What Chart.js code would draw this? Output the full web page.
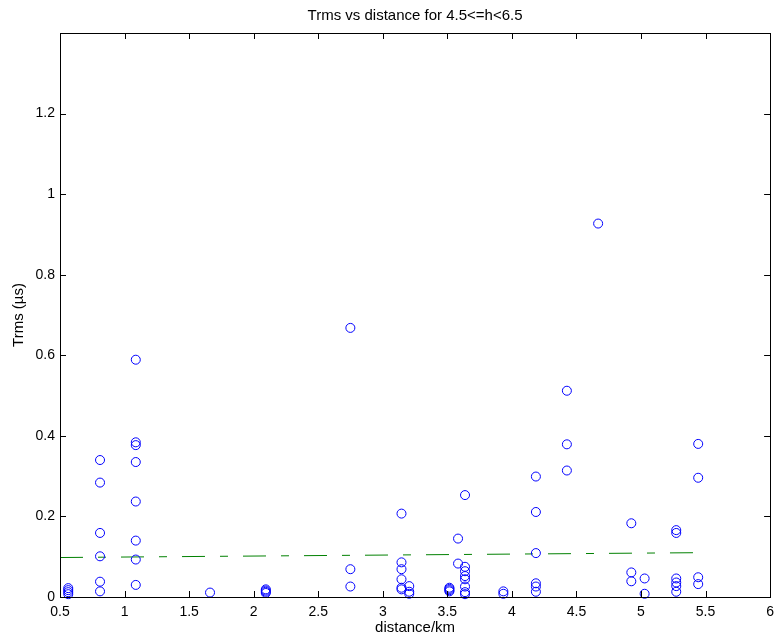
<!DOCTYPE html>
<html>
<head>
<meta charset="utf-8">
<script src="https://cdn.jsdelivr.net/npm/chart.js@4/dist/chart.umd.min.js"></script>
<style>
html,body{margin:0;padding:0;background:#fff;}
#wrap{width:781px;height:642px;}
</style>
</head>
<body>
<div id="wrap"><canvas id="c" width="781" height="642"></canvas></div>
<script>
// ---- data ----
const distanceKm = [
  0.564,0.564,0.564,0.564,
  0.81,0.81,0.81,0.81,0.81,0.81,
  1.087,1.087,1.087,1.087,1.087,1.087,1.087,1.087,
  1.662,
  2.094,2.094,2.094,2.094,
  2.749,2.749,2.749,
  3.145,3.145,3.145,3.145,3.145,3.145,
  3.205,3.205,3.205,
  3.516,3.516,3.516,3.516,
  3.583,3.583,
  3.637,3.637,3.637,3.637,3.637,3.637,3.637,3.637,
  3.934,3.934,
  4.186,4.186,4.186,4.186,4.186,4.186,
  4.426,4.426,4.426,
  4.668,
  4.925,4.925,4.925,
  5.028,5.028,
  5.273,5.273,5.273,5.273,5.273,5.273,
  5.443,5.443,5.443,5.443
];
const trmsUs = [
  0.022,0.017,0.012,0.007,
  0.340,0.284,0.159,0.101,0.038,0.014,
  0.589,0.384,0.377,0.335,0.237,0.140,0.093,0.030,
  0.011,
  0.019,0.016,0.013,0.010,
  0.668,0.069,0.026,
  0.207,0.086,0.069,0.044,0.023,0.019,
  0.027,0.013,0.008,
  0.023,0.020,0.017,0.014,
  0.145,0.083,
  0.253,0.075,0.064,0.052,0.044,0.026,0.012,0.007,
  0.014,0.008,
  0.299,0.211,0.109,0.034,0.026,0.013,
  0.512,0.379,0.314,
  0.927,
  0.183,0.061,0.039,
  0.046,0.008,
  0.166,0.159,0.046,0.036,0.027,0.013,
  0.380,0.296,0.049,0.032
];
const fitDistance = [0.5, 5.44];
const fitTrms = [0.098, 0.110];
const xTicks = [0.5,1,1.5,2,2.5,3,3.5,4,4.5,5,5.5,6];
const yTicks = [0,0.2,0.4,0.6,0.8,1,1.2];
const titleText = 'Trms vs distance for 4.5<=h<6.5';
const xTitle = 'distance/km';
const yTitle = 'Trms (\u00b5s)';

// ---- chart ----
Chart.defaults.font.family = "'Liberation Sans', Arial, sans-serif";
Chart.defaults.color = '#000';

const boxTicks = {
  id: 'boxTicks',
  afterDraw(chart) {
    const {ctx, chartArea: a, scales} = chart;
    const L = 6;
    ctx.save();
    ctx.strokeStyle = '#000';
    ctx.lineWidth = 1;
    ctx.beginPath();
    xTicks.forEach(v => {
      const px = Math.round(scales.x.getPixelForValue(v)) + 0.5;
      ctx.moveTo(px, a.bottom); ctx.lineTo(px, a.bottom - L);
      ctx.moveTo(px, a.top); ctx.lineTo(px, a.top + L);
    });
    yTicks.forEach(v => {
      const py = Math.round(scales.y.getPixelForValue(v)) + 0.5;
      ctx.moveTo(a.left, py); ctx.lineTo(a.left + L, py);
      ctx.moveTo(a.right, py); ctx.lineTo(a.right - L, py);
    });
    ctx.stroke();
    ctx.strokeRect(Math.round(a.left) + 0.5, Math.round(a.top) + 0.5,
                   Math.round(a.right - a.left), Math.round(a.bottom - a.top));
    ctx.restore();
  }
};

new Chart(document.getElementById('c'), {
  type: 'scatter',
  data: {
    datasets: [
      {
        label: 'Trms',
        data: distanceKm.map((d, i) => ({x: d, y: trmsUs[i]})),
        borderColor: '#0000ff',
        backgroundColor: 'rgba(0,0,0,0)',
        pointRadius: 4.5,
        pointHoverRadius: 4.5,
        borderWidth: 1,
        clip: false
      },
      {
        label: 'fit',
        type: 'line',
        data: fitDistance.map((d, i) => ({x: d, y: fitTrms[i]})),
        borderColor: '#008000',
        borderWidth: 1,
        borderDash: [23, 15, 8, 15],
        pointRadius: 0,
        fill: false,
        showLine: true
      }
    ]
  },
  options: {
    responsive: false,
    animation: false,
    devicePixelRatio: 1,
    layout: {padding: {left: 0, right: 9, top: 0, bottom: 0}},
    plugins: {
      legend: {display: false},
      tooltip: {enabled: false},
      title: {
        display: true,
        text: titleText,
        fullSize: false,
        color: '#000',
        font: {size: 15, weight: 'normal'},
        padding: {top: 7, bottom: 8}
      }
    },
    scales: {
      x: {
        type: 'linear',
        min: 0.5, max: 6,
        afterBuildTicks: s => { s.ticks = xTicks.map(v => ({value: v})); },
        afterFit: s => { s.height = 45; },
        grid: {display: false, drawTicks: false},
        border: {display: false},
        ticks: {
          padding: 7,
          font: {size: 14},
          maxRotation: 0,
          callback: v => String(Math.round(v * 10) / 10)
        },
        title: {display: true, text: xTitle, font: {size: 15}, padding: {top: 0, bottom: 5}}
      },
      y: {
        type: 'linear',
        min: 0, max: 1.4,
        afterBuildTicks: s => { s.ticks = yTicks.map(v => ({value: v})); },
        afterFit: s => { s.width = 60; },
        grid: {display: false, drawTicks: false},
        border: {display: false},
        ticks: {
          padding: 5,
          font: {size: 14},
          callback: v => String(Math.round(v * 10) / 10)
        },
        title: {display: true, text: yTitle, font: {size: 15}, padding: {top: 10, bottom: 0}}
      }
    }
  },
  plugins: [boxTicks]
});
</script>
</body>
</html>
